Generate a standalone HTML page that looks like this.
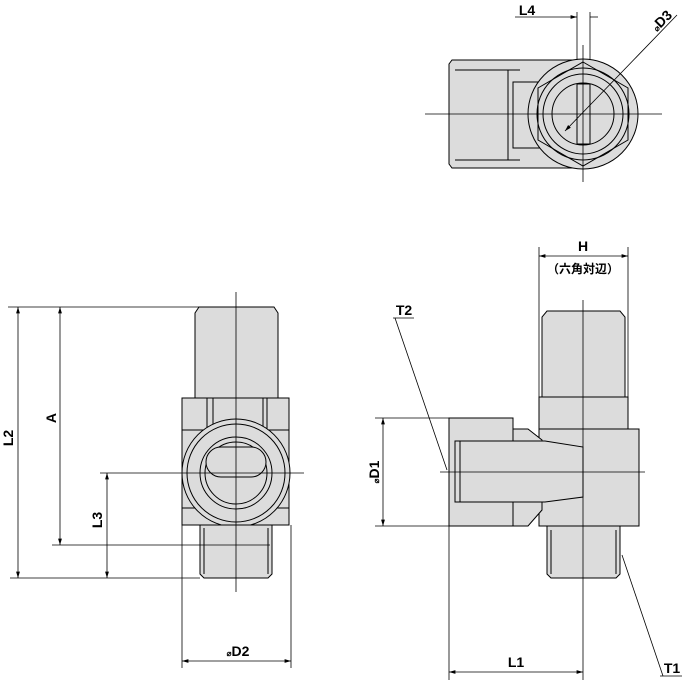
<!DOCTYPE html>
<html><head><meta charset="utf-8"><style>
html,body{margin:0;padding:0;background:#fff;}
svg{display:block;}
text{font-family:"Liberation Sans","Noto Sans CJK JP",sans-serif;font-weight:bold;fill:#000;}
</style></head><body>
<svg width="682" height="681" viewBox="0 0 682 681" xmlns="http://www.w3.org/2000/svg">
<defs>
<marker id="a" viewBox="0 0 10 6" refX="10" refY="3" markerWidth="8" markerHeight="5" orient="auto-start-reverse"><path d="M0,0L10,3L0,6z" fill="#000"/></marker>
</defs>
<g stroke="#000" stroke-width="1" fill="#dcdcdc">
<!-- TOP VIEW -->
<path d="M452,60 L577,60 L577,168 L452,168 L449,164 L449,64 Z"/>
<line x1="455" y1="70" x2="520" y2="70"/><line x1="455" y1="160" x2="520" y2="160"/>
<line x1="508" y1="70" x2="508" y2="160"/>
<rect x="513" y="82" width="40" height="66" fill="none"/>
<circle cx="583" cy="114" r="55"/>
<polygon points="583,62 628,88 628,140 583,166 538,140 538,88" fill="none"/>
<circle cx="583" cy="114" r="46" fill="none"/>
<circle cx="583" cy="114" r="40" fill="none"/>
<circle cx="583" cy="114" r="31"/>
<rect x="577" y="84" width="13" height="60" fill="none"/>
<!-- LEFT VIEW -->
<path d="M199,307 L274,307 L278,313 L278,398 L195,398 L195,313 Z"/>
<rect x="182" y="398" width="107" height="127"/>
<line x1="207" y1="398" x2="207" y2="430"/><line x1="213" y1="398" x2="213" y2="430"/>
<line x1="263" y1="398" x2="263" y2="430"/><line x1="267" y1="398" x2="267" y2="430"/>
<path d="M182,430 L289,430 M182,508 L289,508" fill="none"/>
<circle cx="236" cy="473" r="54"/>
<circle cx="236" cy="473" r="49" fill="none"/>
<circle cx="236" cy="473" r="36" fill="none"/>
<circle cx="236" cy="473" r="31" fill="none"/>
<rect x="206" y="447" width="60" height="30" rx="15"/>
<path d="M200,525 L272,525 L272,574 L268,578 L204,578 L200,574 Z"/>
<line x1="204" y1="528" x2="204" y2="574"/><line x1="268" y1="528" x2="268" y2="574"/>
<!-- RIGHT VIEW -->
<path d="M547,311 L620,311 L625,317 L625,397 L542,397 L542,317 Z"/>
<rect x="539" y="397" width="89" height="32"/>
<rect x="539" y="429" width="100" height="97"/>
<path d="M513,429 L528,429 L542,440 L542,510 L528,526 L513,526 Z"/>
<rect x="449" y="418" width="64" height="108"/>
<path d="M455,441 L545,441 L583,447 L583,497 L545,502 L455,502 L455,441 Z"/>
<line x1="460" y1="441" x2="460" y2="502"/>
<path d="M547,526 L620,526 L620,574 L616,578 L551,578 L547,574 Z"/>
<line x1="551" y1="530" x2="551" y2="574"/><line x1="616" y1="530" x2="616" y2="574"/>
</g>
<g stroke="#000" stroke-width="0.8" fill="none">
<line x1="425" y1="114" x2="662" y2="114"/><line x1="583" y1="45" x2="583" y2="182"/>
<line x1="236" y1="292" x2="236" y2="592"/><line x1="100" y1="473" x2="304" y2="473"/>
<line x1="583" y1="300" x2="583" y2="680"/><line x1="440" y1="472" x2="645" y2="472"/>
<line x1="577" y1="12" x2="577" y2="60"/><line x1="590" y1="12" x2="590" y2="60"/>
<line x1="515" y1="17" x2="577" y2="17" marker-end="url(#a)"/><line x1="590" y1="17" x2="598" y2="17"/>
<line x1="565" y1="131" x2="677" y2="15" marker-start="url(#a)"/>
<line x1="8" y1="307" x2="200" y2="307"/><line x1="10" y1="578" x2="200" y2="578"/>
<line x1="18" y1="307" x2="18" y2="578" marker-start="url(#a)" marker-end="url(#a)"/>
<line x1="60" y1="307" x2="60" y2="545" marker-start="url(#a)" marker-end="url(#a)"/>
<line x1="52" y1="545" x2="270" y2="545"/>
<line x1="107" y1="473" x2="107" y2="578" marker-start="url(#a)" marker-end="url(#a)"/>
<line x1="182" y1="525" x2="182" y2="668"/><line x1="291" y1="525" x2="291" y2="668"/>
<line x1="182" y1="661" x2="291" y2="661" marker-start="url(#a)" marker-end="url(#a)"/>
<line x1="539" y1="247" x2="539" y2="397"/><line x1="628" y1="247" x2="628" y2="397"/>
<line x1="539" y1="256" x2="628" y2="256" marker-start="url(#a)" marker-end="url(#a)"/>
<line x1="375" y1="418" x2="449" y2="418"/><line x1="375" y1="526" x2="449" y2="526"/>
<line x1="383" y1="418" x2="383" y2="526" marker-start="url(#a)" marker-end="url(#a)"/>
<line x1="449" y1="526" x2="449" y2="680"/>
<line x1="449" y1="672" x2="583" y2="672" marker-start="url(#a)" marker-end="url(#a)"/>
<line x1="393" y1="318" x2="414" y2="318"/><line x1="395" y1="318" x2="447" y2="470"/>
<line x1="622" y1="555" x2="663" y2="676"/><line x1="660" y1="676" x2="682" y2="676"/>
</g>
<g font-size="14">
<text x="527" y="15" text-anchor="middle">L4</text>
<text transform="translate(665,24) rotate(-45)" text-anchor="middle"><tspan font-size="8">⌀</tspan>D3</text>
<text transform="translate(13,438) rotate(-90)" text-anchor="middle">L2</text>
<text transform="translate(56,418) rotate(-90)" text-anchor="middle">A</text>
<text transform="translate(102,520) rotate(-90)" text-anchor="middle">L3</text>
<text x="238" y="656" text-anchor="middle"><tspan font-size="8">⌀</tspan>D2</text>
<text x="583" y="251" text-anchor="middle">H</text>
<text x="583" y="273" text-anchor="middle" font-weight="normal" font-size="12">（六角対辺）</text>
<text x="404" y="315" text-anchor="middle">T2</text>
<text transform="translate(379,472) rotate(-90)" text-anchor="middle"><tspan font-size="8">⌀</tspan>D1</text>
<text x="516" y="667" text-anchor="middle">L1</text>
<text x="672" y="673" text-anchor="middle">T1</text>
</g>
</svg>
</body></html>
